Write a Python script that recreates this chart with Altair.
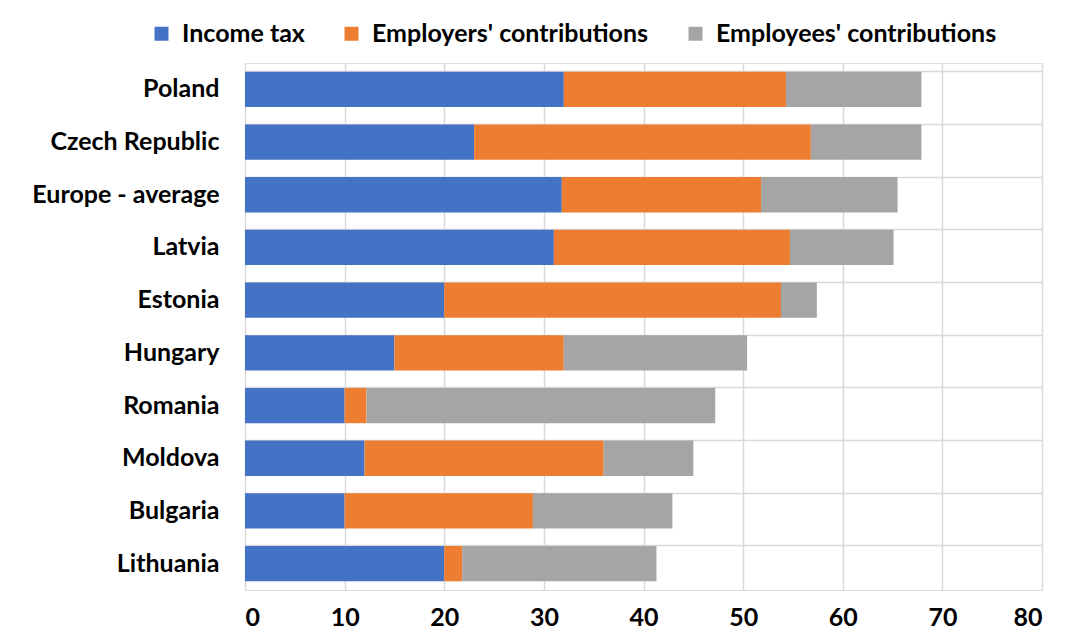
import altair as alt
import pandas as pd

countries = ["Poland", "Czech Republic", "Europe - average", "Latvia", "Estonia",
             "Hungary", "Romania", "Moldova", "Bulgaria", "Lithuania"]
income_tax = [32.0, 23.0, 31.8, 31.0, 20.0, 15.0, 10.0, 12.0, 10.0, 20.0]
employers = [22.3, 33.8, 20.0, 23.7, 33.8, 17.0, 2.2, 24.0, 18.9, 1.8]
employees = [13.6, 11.1, 13.7, 10.4, 3.6, 18.4, 35.0, 9.0, 14.0, 19.5]
series = ["Income tax", "Employers' contributions", "Employees' contributions"]
colors = ["#4472C4", "#ED7D31", "#A5A5A5"]

rows = []
for i, c in enumerate(countries):
    for k, (name, vals) in enumerate(zip(series, [income_tax, employers, employees])):
        rows.append({"country": c, "series": name, "value": vals[i], "order": k})
df = pd.DataFrame(rows)

FONT = "Lato"
W = "bold"
FS = 25

chart = alt.Chart(df).mark_bar().encode(
    y=alt.Y("country:N", sort=countries, title=None,
            scale=alt.Scale(paddingInner=0.33, paddingOuter=0.165),
            axis=alt.Axis(labelFont=FONT, labelFontSize=FS, labelFontWeight=W,
                          labelColor="#000000", labelPadding=26, ticks=False, domain=False,
                          grid=True, bandPosition=0, gridColor="#d9d9d9", gridWidth=1.5,
                          labelLimit=400)),
    x=alt.X("value:Q", stack="zero", title=None,
            scale=alt.Scale(domain=[0, 80], nice=False),
            axis=alt.Axis(values=list(range(0, 81, 10)), labelFont=FONT, labelFontSize=FS,
                          labelFontWeight=W, labelColor="#000000", labelPadding=15,
                          ticks=False, domain=False, gridColor="#d9d9d9", gridWidth=1.5)),
    color=alt.Color("series:N", sort=series,
                    scale=alt.Scale(domain=series, range=colors),
                    legend=alt.Legend(title=None, orient="none", direction="horizontal",
                                      legendX=-96, legendY=-42, labelLimit=500,
                                      labelFont=FONT, labelFontSize=FS, labelFontWeight=W,
                                      labelColor="#000000", symbolType="square", symbolSize=196,
                                      symbolStrokeWidth=0, columnPadding=34, labelOffset=8)),
    order=alt.Order("order:Q"),
).properties(
    width=797, height=527,
    autosize=alt.AutoSizeParams(type="none"),
    padding={"left": 237, "top": 55, "right": 19, "bottom": 41},
).configure_view(stroke="#d9d9d9", strokeWidth=1.5).configure(background="#ffffff")

chart.save("out.html", embed_options={"renderer": "svg", "actions": False})
